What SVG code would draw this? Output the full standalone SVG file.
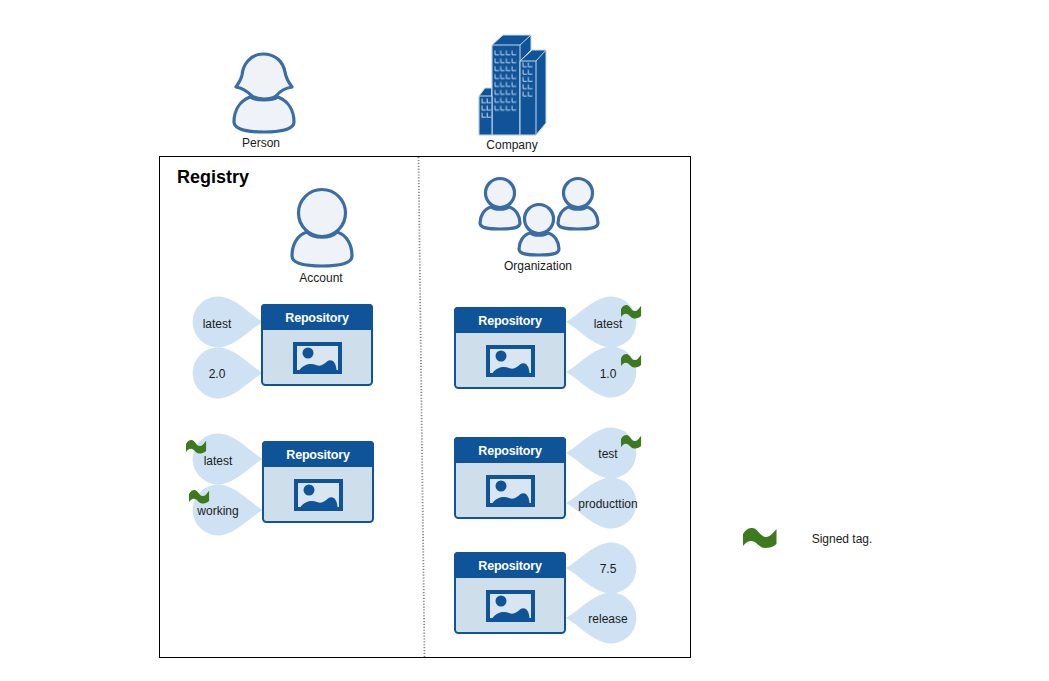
<svg xmlns="http://www.w3.org/2000/svg" width="1049" height="681" viewBox="0 0 1049 681">
<style>
text{font-family:"Liberation Sans",Arial,sans-serif;font-size:12px;fill:#1a1a1a;text-anchor:middle}
.title{font-size:18px;font-weight:bold;fill:#000;text-anchor:start}
.rt{font-size:12.500px;font-weight:bold;fill:#fff;letter-spacing:-.2px}
.fig{fill:#eff3f8;stroke:#3a6ca6;stroke-width:3.200;stroke-linejoin:round}
.drop{fill:#cfe2f3}
.sq{fill:#3c7a1e}
.bld{fill:#0f5499;stroke:#c9d8e8;stroke-width:1;stroke-linejoin:round}
.win{fill:none;stroke:#d5e2ee;stroke-width:.9}
</style>
<defs>
<pattern id="w1" x="494" y="50" width="5.700" height="7.900" patternUnits="userSpaceOnUse"><path d="M1 .5V4.800H5" class="win"/></pattern>
<pattern id="w2" x="522" y="62" width="5.400" height="7.300" patternUnits="userSpaceOnUse"><path d="M1 .5V4.800H5" class="win"/></pattern>
<pattern id="w3" x="481" y="98" width="5.200" height="7.200" patternUnits="userSpaceOnUse"><path d="M1 .5V4.800H5" class="win"/></pattern>
<g id="repo">
<rect x="1" y="1" width="110" height="80" rx="3.500" fill="#cfdeeb" stroke="#0f5499" stroke-width="2"/>
<path d="M0 26V3.500A3.500 3.500 0 0 1 3.500 0H108.500A3.500 3.500 0 0 1 112 3.500V26Z" fill="#0f5499"/>
<rect x="34" y="40" width="45" height="28" fill="#d9e5f0" stroke="#0f5499" stroke-width="4"/>
<circle cx="47" cy="49" r="5.500" fill="#0f5499"/>
<path d="M38.500 66C43 60 50 59 55 61C60 63 63 60 66 57.500C70 54.500 75 57 75.500 66Z" fill="#0f5499"/>
</g>
<path id="tagR" class="drop" d="M45 0C31 -8 20 -22 4 -25.200A25.500 25.500 0 1 0 4 25.200C20 22 31 8 45 0Z"/>
<path id="tagL" class="drop" d="M-45 0C-31 -8 -20 -22 -4 -25.200A25.500 25.500 0 1 1 -4 25.200C-20 22 -31 8 -45 0Z"/>
<path id="sq" class="sq" d="M0 18V6C3 1 6 0 9 0C15 0 17 9 23 9C27 9 30 5 33.500 1V16C30 19 26 20 22 20C16 20 14 13 8 13C5 13 2 15 0 18Z"/>
<g id="usr"><path class="fig" d="M-15 19C-25 22 -30 32 -30 43C-30 50 -20 53 0 53C20 53 30 50 30 43C30 32 25 22 15 19C8 26 -8 26 -15 19Z"/><circle class="fig" r="23.500"/></g>
<g id="usrS"><path class="fig" d="M-9 14C-16 16 -20 23 -20 30C-20 35 -12 36 0 36C12 36 20 35 20 30C20 23 16 16 9 14C5 17 -5 17 -9 14Z"/><circle class="fig" r="14.500"/></g>
</defs>

<g id="connectors"></g>

<g id="registry">
<rect x="159.500" y="156.500" width="531" height="501" fill="#fff" stroke="#000" stroke-width="1"/>
<path d="M418.500 157L424.500 657" fill="none" stroke="#888" stroke-width="1.800" stroke-dasharray="1.200 1.700"/>
<text class="title" x="177" y="183">Registry</text>
</g>

<g id="person">
<path class="fig" d="M250 97C240 101 234 110 234 122C234 130 250 132 264 132C278 132 294 130 294 122C294 110 288 101 278 97C272 101 256 101 250 97Z"/>
<path class="fig" d="M263 54C250 54 243 65 242 75C241 80 238 84 236 87C243 88 248 92 252 96C258 100 270 100 276 96C280 91 285 88 292 87C289 83 286 78 285 72C283 62 276 54 263 54Z"/>
<text x="261" y="147">Person</text>
</g>

<g id="company">
<path class="bld" d="M479 135V96L485 88H492V135Z"/>
<path class="bld" d="M492 45L503 35H531V50L520 61V135H492Z"/>
<path class="bld" d="M520 61L532 50H546V123L536 135H520Z"/>
<path d="M520 45L531 35M536 61L546 50" class="win"/>
<path class="bld" d="M492 45H520V135H492Z"/>
<path class="bld" d="M520 61H536V135H520Z"/>
<path class="bld" d="M479 96H492V135H479Z"/>
<rect x="494" y="50" width="23" height="63" fill="url(#w1)"/>
<rect x="522" y="62" width="11" height="36.500" fill="url(#w2)"/>
<rect x="481" y="98" width="10.500" height="21.600" fill="url(#w3)"/>
<text x="512" y="149">Company</text>
</g>

<g id="account"><use href="#usr" x="322" y="213"/><text x="321" y="282">Account</text></g>

<g id="organization">
<use href="#usrS" x="500" y="193"/><use href="#usrS" x="578" y="193"/><use href="#usrS" x="539" y="219"/>
<text x="538" y="270">Organization</text>
</g>

<g id="repo-a1"><use href="#tagR" x="218" y="322"/><use href="#tagR" x="218" y="373"/><use href="#repo" x="261" y="304"/>
<text class="rt" x="317" y="322">Repository</text><text x="217" y="328">latest</text><text x="217" y="378">2.0</text></g>

<g id="repo-a2"><use href="#tagR" x="218" y="459"/><use href="#tagR" x="218" y="510"/><use href="#repo" x="262" y="441"/>
<use href="#sq" transform="translate(186 440) scale(.6 .68)"/><use href="#sq" transform="translate(189 490) scale(.6 .68)"/>
<text class="rt" x="318" y="459">Repository</text><text x="218" y="465">latest</text><text x="218" y="515">working</text></g>

<g id="repo-o1"><use href="#tagL" x="611" y="322"/><use href="#tagL" x="611" y="372"/><use href="#repo" x="454" y="307"/>
<use href="#sq" transform="translate(621 305) scale(.6 .68)"/><use href="#sq" transform="translate(621 354) scale(.6 .68)"/>
<text class="rt" x="510" y="325">Repository</text><text x="608" y="328">latest</text><text x="608" y="378">1.0</text></g>

<g id="repo-o2"><use href="#tagL" x="611" y="453"/><use href="#tagL" x="611" y="503"/><use href="#repo" x="454" y="437"/>
<use href="#sq" transform="translate(621 435) scale(.6 .68)"/>
<text class="rt" x="510" y="455">Repository</text><text x="608" y="458">test</text><text x="608" y="508">producttion</text></g>

<g id="repo-o3"><use href="#tagL" x="611" y="568"/><use href="#tagL" x="611" y="618"/><use href="#repo" x="454" y="552"/>
<text class="rt" x="510" y="570">Repository</text><text x="608" y="573">7.5</text><text x="608" y="623">release</text></g>

<g id="legend"><use href="#sq" x="743" y="528"/><text x="842" y="543">Signed tag.</text></g>
</svg>
